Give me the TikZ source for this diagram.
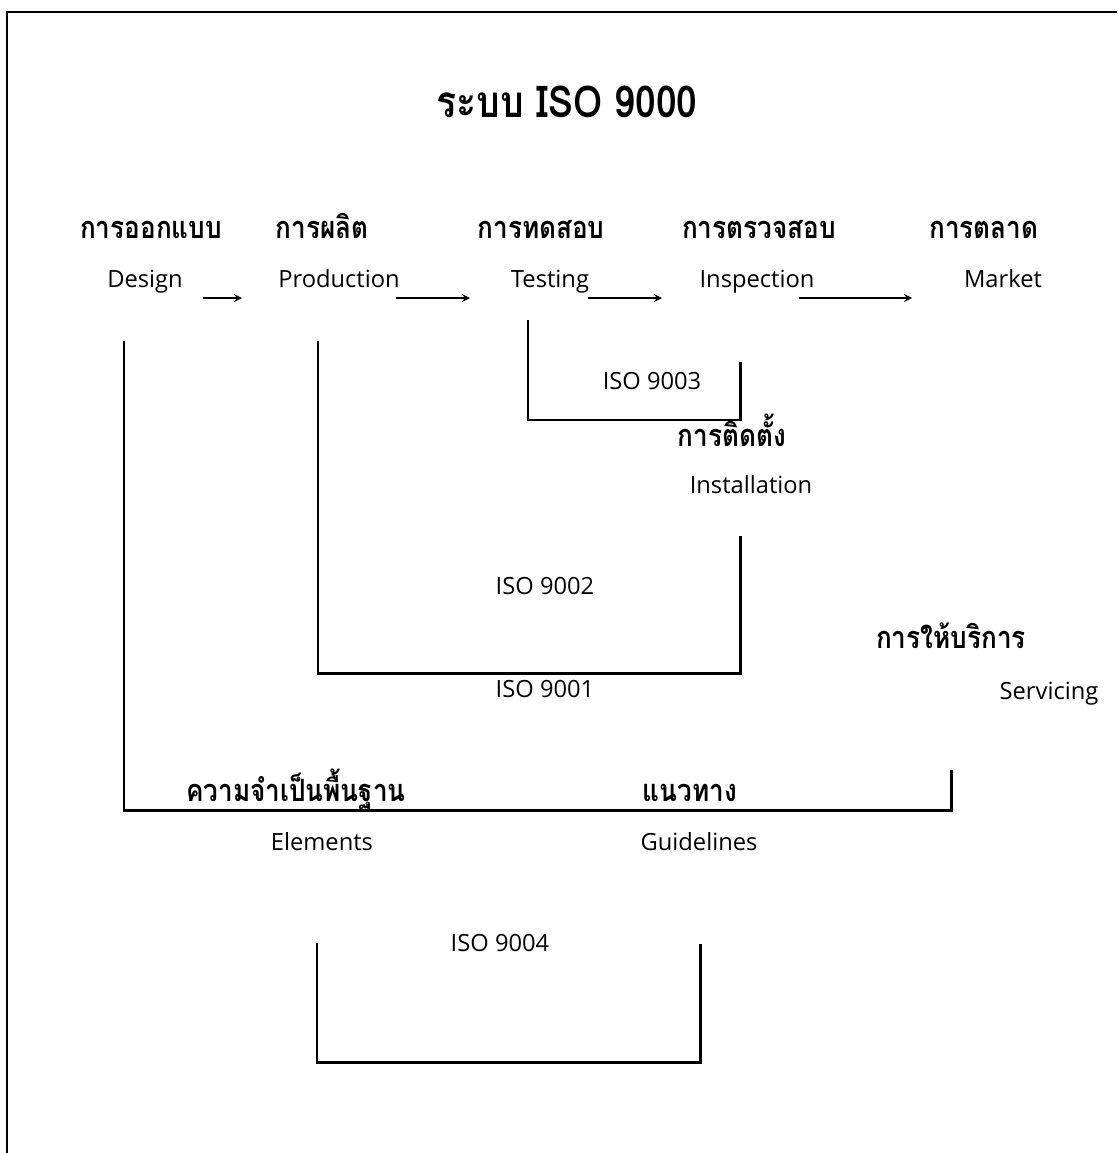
\documentclass[tikz,border=0pt]{standalone}
\usepackage{fontspec}
\setmainfont{Open Sans}
\newfontfamily\thaifont[Script=Thai,FakeStretch=0.85]{Loma}
\usetikzlibrary{arrows.meta}

\begin{document}
\begin{tikzpicture}[x=0.02cm,y=-0.02cm,
    thai/.style={font=\thaifont\bfseries\fontsize{17.5}{20}\selectfont,inner sep=1pt,text height=2.3ex,text depth=0.2ex},
    eng/.style={font=\fontsize{13.5}{16}\selectfont,inner sep=1pt,text height=2.0ex,text depth=0.4ex},
    bracket/.style={line width=1.7pt},
    flow/.style={->,>=stealth,line width=1pt}]
	\useasboundingbox (0,0) rectangle (1117,1153);
	% frame
	\coordinate (fbl) at (7,1153); \coordinate (ftl) at (7,12); \coordinate (ftr) at (1117,12);
	\draw[bracket] (fbl) -- (ftl) -- (ftr);
	\node[font=\thaifont\bfseries\fontsize{25}{28}\selectfont] (title) at (567,102) {ระบบ ISO 9000};
	% steps
	\node[thai] (thDes) at (151,229) {การออกแบบ};
	\node[thai] (thPro) at (322,229) {การผลิต};
	\node[thai] (thTes) at (541,229) {การทดสอบ};
	\node[thai] (thIns) at (759,229) {การตรวจสอบ};
	\node[thai] (thMar) at (984,229) {การตลาด};
	\node[eng] (des) at (145,280) {Design};
	\node[eng] (pro) at (339,280) {Production};
	\node[eng] (tes) at (550,280) {Testing};
	\node[eng] (ins) at (757,280) {Inspection};
	\node[eng] (mar) at (1003,280) {Market};
	\coordinate (a1) at (203,298); \coordinate (b1) at (242,298);
	\coordinate (a2) at (396,298); \coordinate (b2) at (470,298);
	\coordinate (a3) at (588,298); \coordinate (b3) at (662,298);
	\coordinate (a4) at (799,298); \coordinate (b4) at (912,298);
	\draw (a1) edge [flow] (b1);
	\draw (a2) edge [flow] (b2);
	\draw (a3) edge [flow] (b3);
	\draw (a4) edge [flow] (b4);
	% ISO 9003
	\coordinate (k3a) at (528,320); \coordinate (k3b) at (528,420);
	\coordinate (k3c) at (740,420); \coordinate (k3d) at (740,362);
	\draw[bracket] (k3a) -- (k3b) -- (k3c) -- (k3d);
	\node[eng] (iso3) at (652,382) {ISO 9003};
	\node[thai] (thIst) at (732,437) {การติดตั้ง};
	\node[eng] (ist) at (751,486) {Installation};
	% ISO 9002 / 9001
	\coordinate (k2a) at (318,341); \coordinate (k2b) at (318,673);
	\coordinate (k2c) at (740,673); \coordinate (k2d) at (740,536);
	\draw[bracket] (k2a) -- (k2b) -- (k2c) -- (k2d);
	\node[eng] (iso2) at (545,587) {ISO 9002};
	\node[eng] (iso1) at (545,690) {ISO 9001};
	\node[thai] (thSer) at (951,639) {การให้บริการ};
	\node[eng] (ser) at (1049,692) {Servicing};
	% elements / guidelines
	\coordinate (k1a) at (124,341); \coordinate (k1b) at (124,810);
	\coordinate (k1c) at (951,810); \coordinate (k1d) at (951,770);
	\draw[bracket] (k1a) -- (k1b) -- (k1c) -- (k1d);
	\node[thai] (thEle) at (296,792) {ความจำเป็นพื้นฐาน};
	\node[thai] (thGui) at (690,792) {แนวทาง};
	\node[eng] (ele) at (322,843) {Elements};
	\node[eng] (gui) at (699,843) {Guidelines};
	% ISO 9004
	\coordinate (k4a) at (317,943); \coordinate (k4b) at (317,1062);
	\coordinate (k4c) at (700,1062); \coordinate (k4d) at (700,944);
	\draw[bracket] (k4a) -- (k4b) -- (k4c) -- (k4d);
	\node[eng] (iso4) at (500,944) {ISO 9004};
\end{tikzpicture}
\end{document}
